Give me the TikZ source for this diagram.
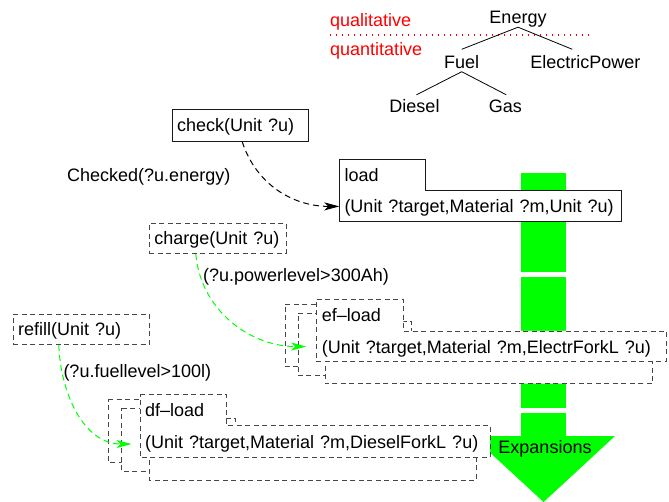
\documentclass[tikz,border=0pt]{standalone}
\usepackage{fontspec}
\setmainfont{Liberation Sans}
\usetikzlibrary{arrows.meta}

\definecolor{flowgreen}{RGB}{0,255,0}
\definecolor{framegray}{RGB}{70,70,70}

% Tab-shaped operator frame: style, x, y, tab width, tab height, body width, body height
\newcommand\tabframe[7]{%
  \path[#1] (#2,#3) -- ++(#4,0) -- ++(0,#5) -- ({#2+#6},{#3+#5})
    -- ++(0,#7) -- (#2,{#3+#5+#7}) -- cycle;}

\begin{document}
\begin{tikzpicture}[x=1pt,y=-1pt,
  every node/.style={font=\fontsize{18}{21}\selectfont, inner sep=0pt},
  freetext/.style={anchor=base west},
  treeterm/.style={anchor=base, text height=13pt, text depth=3pt},
  scaletext/.style={anchor=base west, text=red},
  solidframe/.style={draw=black!90, line width=0.9pt, fill=white},
  dashframe/.style={draw=framegray, line width=0.9pt, fill=white,
    dash pattern=on 5pt off 3.5pt},
  opbox/.style={anchor=north west, inner xsep=5pt, align=left,
    text height=13pt, text depth=0pt},
  rowtext/.style={anchor=north west, inner xsep=5pt, align=left,
    text height=13pt, text depth=0pt},
  treeline/.style={line width=0.8pt},
  blackflow/.style={draw=black, line width=1pt, dash pattern=on 6pt off 4pt,
    -{Stealth[length=15pt,width=8pt,inset=4pt]}},
  greenflow/.style={draw=flowgreen, line width=1pt, dash pattern=on 6pt off 4pt,
    -{Stealth[length=15pt,width=8pt,inset=4pt,fill=flowgreen]}},
]
\useasboundingbox (0,0) rectangle (669,502);
\fill[white] (0,0) rectangle (669,502);

% broad green expansion arrow, in the back
\fill[flowgreen] (521.3,173.3) rectangle (566,272);
\fill[flowgreen] (521.3,277.3) rectangle (566,408);
\fill[flowgreen] (521.3,413) rectangle (566,436.5);
\fill[flowgreen] (472,436) -- (615,436) -- (543.6,502) -- cycle;
\node[anchor=base] (expansions) at (545,453.3) {Expansions};

% qualitative / quantitative split
\node[scaletext] (qual) at (330,26.5) {qualitative};
\node[scaletext] (quant) at (330,55.5) {quantitative};
\draw[red, line width=1.2pt, dash pattern=on 1.2pt off 4.8pt] (330,35) -- (593,35);

% energy taxonomy
\node[treeterm] (energy) at (518,24) {Energy};
\node[treeterm] (fuel) at (461.7,68.5) {Fuel};
\node[treeterm] (electric) at (585.3,68.5) {ElectricPower};
\node[treeterm] (diesel) at (414.5,113) {Diesel};
\node[treeterm] (gas) at (505.3,113) {Gas};
\draw[treeline] (energy.south) -- ([yshift=6pt]fuel.north);
\draw[treeline] (energy.south) -- ([xshift=-13pt,yshift=6pt]electric.north);
\draw[treeline] (fuel.south) -- ([xshift=2pt,yshift=5pt]diesel.north);
\draw[treeline] (fuel.south) -- ([xshift=1pt,yshift=5pt]gas.north);

% load operator
\tabframe{solidframe}{339.3}{159}{86.4}{31.7}{281.7}{31}
\node[rowtext, text width=76.4pt, minimum height=31.7pt] (loadtab) at (339.3,159) {load};
\node[rowtext, text width=271.7pt, minimum height=31pt] (loadmain) at (339.3,190.7)
  {(Unit ?target,Material ?m,Unit ?u)};

% ef-load operator with its stacked expansions
\tabframe{dashframe}{285}{304.3}{86.6}{31.7}{349.3}{30.7}
\tabframe{dashframe}{298.3}{313.3}{86.6}{31.7}{349.3}{30.7}
\tabframe{dashframe}{325}{321.3}{86.6}{31.7}{327.7}{30.7}
\tabframe{dashframe}{316.7}{299.3}{86.6}{31.7}{349.3}{30.7}
\node[rowtext, text width=76.6pt, minimum height=31.7pt] (eftab) at (316.7,299.3) {ef–load};
\node[rowtext, text width=339.3pt, minimum height=30.7pt] (efmain) at (316.7,331)
  {(Unit ?target,Material ?m,ElectrForkL ?u)};

% df-load operator with its stacked expansions
\tabframe{dashframe}{108.3}{399.3}{86}{30.7}{350}{32.7}
\tabframe{dashframe}{121.7}{408.3}{86}{30.7}{350}{32.7}
\tabframe{dashframe}{149}{418}{86}{30.7}{327}{31.3}
\tabframe{dashframe}{140}{394.3}{86}{30.7}{350}{32.7}
\node[rowtext, text width=76pt, minimum height=30.7pt] (dftab) at (140,394.3) {df–load};
\node[rowtext, text width=340pt, minimum height=32.7pt] (dfmain) at (140,425)
  {(Unit ?target,Material ?m,DieselForkL ?u)};

% precondition operators
\node[opbox, solidframe, text width=126pt, minimum height=31.7pt] (check) at (171.7,109) {check(Unit ?u)};
\node[opbox, dashframe, text width=126.7pt, minimum height=30.6pt] (charge) at (149,222.7) {charge(Unit ?u)};
\node[opbox, dashframe, text width=126.3pt, minimum height=30pt] (refill) at (12.7,314) {refill(Unit ?u)};

% condition labels
\node[freetext] (checked) at (67,181.5) {Checked(?u.energy)};
\node[freetext] (power) at (203,281.5) {(?u.powerlevel>300Ah)};
\node[freetext] (fuellevel) at (63.3,377.5) {(?u.fuellevel>100l)};

% connectors
\draw[blackflow] ([xshift=2pt]check.south) to[out=-72,in=180] (loadmain.west);
\draw[greenflow] ([xshift=-22pt]charge.south) to[out=-85,in=180] ([xshift=-10.5pt]efmain.west);
\draw[greenflow] ([xshift=-22.5pt]refill.south) to[out=-88,in=180] ([xshift=-8.5pt,yshift=-2.5pt]dfmain.west);
\end{tikzpicture}
\end{document}
